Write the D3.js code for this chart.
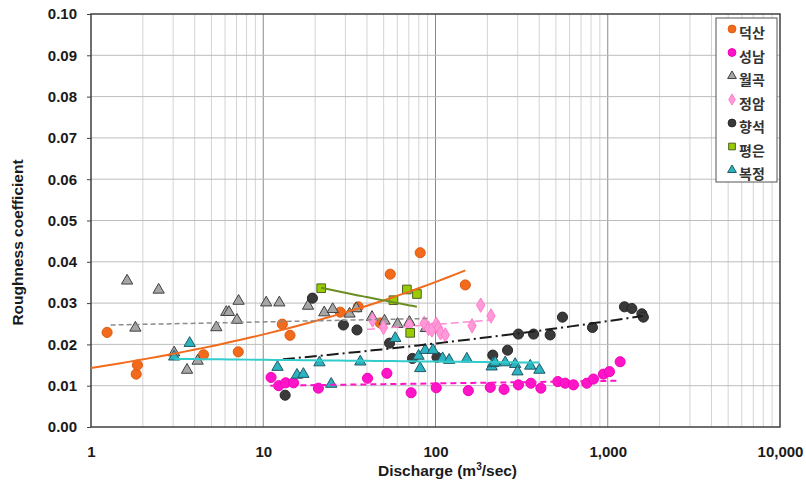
<!DOCTYPE html>
<html>
<head>
<meta charset="utf-8">
<script src="https://cdn.jsdelivr.net/npm/d3@7"></script>
<style>
	body { margin: 0; background: #fff; }
	text { font-family: "Liberation Sans", Arial, sans-serif; }
</style>
</head>
<body>
<div id="chart"></div>
<script>
// discharge (m3/sec) and roughness coefficient
var deoksanQ = [1.24, 1.83, 1.86, 4.5, 7.16, 12.9, 14.3, 28, 35.6, 47.8, 54.6, 81.5, 149];
var deoksanN = [0.0229, 0.0128, 0.0150, 0.0175, 0.0182, 0.0249, 0.0222, 0.0278, 0.0291, 0.0252, 0.0370, 0.0422, 0.0344];

var seongnamQ = [11.1, 12.3, 13.5, 15.0, 20.9, 40.3, 52.2, 72.2, 101, 155, 208, 250, 303, 358, 409, 513, 566, 632, 756, 826, 944, 1023, 1180];
var seongnamN = [0.0120, 0.0100, 0.0107, 0.0107, 0.0094, 0.0118, 0.0130, 0.0083, 0.0095, 0.0088, 0.0096, 0.0091, 0.0102, 0.0106, 0.0094, 0.0110, 0.0106, 0.0102, 0.0106, 0.0116, 0.0128, 0.0134, 0.0158];

var wolgokQ = [1.62, 1.81, 2.47, 3.04, 3.61, 4.16, 5.34, 6.10, 6.32, 7.04, 7.19, 10.4, 12.4, 18.2, 22.6, 25.3, 31.7, 34.7, 42.8, 50.6, 60.2, 70.6, 87.9];
var wolgokN = [0.0354, 0.0240, 0.0332, 0.0180, 0.0138, 0.0160, 0.0241, 0.0278, 0.0278, 0.0259, 0.0305, 0.0301, 0.0301, 0.0293, 0.0277, 0.0285, 0.0274, 0.0287, 0.0266, 0.0257, 0.0249, 0.0254, 0.0239];

var jeongamQ = [43.1, 49.9, 70.4, 86, 91.1, 95.3, 101, 104, 107, 114, 163, 183, 210];
var jeongamN = [0.0259, 0.0241, 0.0247, 0.0251, 0.0239, 0.0235, 0.0249, 0.0240, 0.0228, 0.0223, 0.0245, 0.0295, 0.0269];

var hyangseokQ = [13.4, 19.3, 29.2, 35.0, 54.1, 73.5, 102, 215, 262, 303, 371, 463, 546, 815, 1250, 1380, 1578, 1610];
var hyangseokN = [0.0077, 0.0312, 0.0247, 0.0235, 0.0203, 0.0166, 0.0169, 0.0174, 0.0186, 0.0225, 0.0225, 0.0223, 0.0266, 0.0241, 0.0291, 0.0287, 0.0274, 0.0266];

var pyeongeunQ = [21.7, 57.0, 68.2, 71.3, 78.0];
var pyeongeunN = [0.0336, 0.0307, 0.0333, 0.0228, 0.0322];

var bokjeongQ = [3.04, 3.74, 12.1, 15.7, 17.1, 21.2, 24.8, 36.6, 58.4, 79.7, 81.5, 87.1, 96.6, 110, 120, 152, 212, 216, 222, 254, 290, 299, 355, 401];
var bokjeongN = [0.0170, 0.0203, 0.0145, 0.0126, 0.0128, 0.0156, 0.0104, 0.0158, 0.0215, 0.0172, 0.0142, 0.0186, 0.0186, 0.0166, 0.0162, 0.0165, 0.0146, 0.0154, 0.0156, 0.0156, 0.0152, 0.0134, 0.0148, 0.0138];

// power trend lines n = a * Q^b, drawn between qFrom and qTo
var trendA = [0.0143, 0.00944, 0.0246, 0.0193, 0.0126, 0.0480, 0.01671];
var trendB = [0.195, 0.0242, 0.0147, 0.055, 0.1028, -0.1147, -0.0115];
var trendFrom = [1, 11, 1.3, 40, 13, 21.7, 3.04];
var trendTo = [149, 1180, 93, 210, 1600, 78, 401];

var names = ['덕산', '성남', '월곡', '정암', '향석', '평은', '복정'];

var xTicks = [1, 10, 100, 1000, 10000];
var yTicks = [0, 0.01, 0.02, 0.03, 0.04, 0.05, 0.06, 0.07, 0.08, 0.09, 0.10];

var series = [
	{q: deoksanQ, n: deoksanN, shape: d3.symbolCircle, fill: '#F26A1B', stroke: '#E05A10', size: 80,
		line: '#F26A1B', dash: null, lw: 2},
	{q: seongnamQ, n: seongnamN, shape: d3.symbolCircle, fill: '#FF14C8', stroke: '#F000BC', size: 80,
		line: '#FF14C8', dash: '6,4', lw: 2},
	{q: wolgokQ, n: wolgokN, shape: d3.symbolTriangle, fill: '#A6A6A6', stroke: '#404040', size: 55,
		line: '#8C8C8C', dash: '5,3', lw: 1.5},
	{q: jeongamQ, n: jeongamN, shape: d3.symbolDiamond, fill: '#FF9AD8', stroke: '#FF7ACB', size: 60,
		line: '#FF8CD4', dash: '8,4', lw: 1.5},
	{q: hyangseokQ, n: hyangseokN, shape: d3.symbolCircle, fill: '#3A3A3A', stroke: '#262626', size: 80,
		line: '#1A1A1A', dash: '12,4,2,4', lw: 2},
	{q: pyeongeunQ, n: pyeongeunN, shape: d3.symbolSquare, fill: '#99CC00', stroke: '#4F6228', size: 75,
		line: '#6B8E23', dash: null, lw: 2},
	{q: bokjeongQ, n: bokjeongN, shape: d3.symbolTriangle, fill: '#2BB3C0', stroke: '#215968', size: 55,
		line: '#33CCCC', dash: null, lw: 2}
];

var width = 806, height = 480,
	pad = {top: 14, right: 26, bottom: 53, left: 91};

var svg = d3.select('#chart').append('svg')
	.attr('width', width).attr('height', height);

var x = d3.scaleLog().domain([1, 10000]).range([pad.left, width - pad.right]);
var y = d3.scaleLinear().domain([0, 0.10]).range([height - pad.bottom, pad.top]);

var grid = svg.append('g').attr('class', 'grid');

// minor vertical grid
var minor = [];
for (var dec = 1; dec < 10000; dec *= 10) {
	for (var k = 2; k < 10; k++) minor.push(dec * k);
}
grid.selectAll('line.minor').data(minor).enter().append('line')
	.attr('class', 'minor')
	.attr('x1', function (d) {return x(d);}).attr('x2', function (d) {return x(d);})
	.attr('y1', y(0)).attr('y2', y(0.10))
	.attr('stroke', '#D4D4D4').attr('stroke-width', 1);

grid.selectAll('line.major').data(xTicks.slice(1, -1)).enter().append('line')
	.attr('class', 'major')
	.attr('x1', function (d) {return x(d);}).attr('x2', function (d) {return x(d);})
	.attr('y1', y(0)).attr('y2', y(0.10))
	.attr('stroke', '#8A8A8A').attr('stroke-width', 1);

grid.selectAll('line.h').data(yTicks.slice(1, -1)).enter().append('line')
	.attr('class', 'h')
	.attr('x1', x(1)).attr('x2', x(10000))
	.attr('y1', function (d) {return y(d);}).attr('y2', function (d) {return y(d);})
	.attr('stroke', '#BDBDBD').attr('stroke-width', 1);

// frame
svg.append('rect')
	.attr('x', x(1)).attr('y', y(0.10))
	.attr('width', x(10000) - x(1)).attr('height', y(0) - y(0.10))
	.attr('fill', 'none').attr('stroke', '#404040').attr('stroke-width', 1.5);

// axes
var yAxis = d3.axisLeft(y).tickValues(yTicks).tickSize(4).tickFormat(d3.format('.2f'));
var gy = svg.append('g').attr('transform', 'translate(' + x(1) + ',0)').call(yAxis);
gy.select('.domain').remove();
gy.selectAll('.tick line').attr('stroke', '#404040');
gy.selectAll('.tick text')
	.attr('x', -14)
	.style('font-size', '15px').style('font-weight', 'bold').attr('fill', '#1a1a1a');

var xAxis = d3.axisBottom(x).tickValues(xTicks).tickSize(0).tickFormat(d3.format(','));
var gx = svg.append('g').attr('transform', 'translate(0,' + y(0) + ')').call(xAxis);
gx.select('.domain').remove();
gx.selectAll('.tick text')
	.attr('y', 19)
	.style('font-size', '15px').style('font-weight', 'bold').attr('fill', '#1a1a1a');

// axis titles
var xt = svg.append('text')
	.attr('x', x(100) + 12).attr('y', 476)
	.attr('text-anchor', 'middle')
	.style('font-size', '15.5px').style('font-weight', 'bold').attr('fill', '#1a1a1a');
xt.append('tspan').text('Discharge (m');
xt.append('tspan').attr('dy', -6).style('font-size', '10px').text('3');
xt.append('tspan').attr('dy', 6).text('/sec)');

svg.append('text')
	.attr('transform', 'translate(23,' + (y(0.05) + 22) + ') rotate(-90)')
	.attr('text-anchor', 'middle')
	.style('font-size', '15.5px').style('font-weight', 'bold').attr('fill', '#1a1a1a')
	.text('Roughness coefficient');

// trend lines
var line = d3.line()
	.x(function (d) {return x(d[0]);})
	.y(function (d) {return y(d[1]);});

series.forEach(function (s, i) {
	var pts = [];
	var l0 = Math.log10(trendFrom[i]), l1 = Math.log10(trendTo[i]);
	for (var j = 0; j <= 40; j++) {
		var q = Math.pow(10, l0 + (l1 - l0) * j / 40);
		pts.push([q, trendA[i] * Math.pow(q, trendB[i])]);
	}
	s.trend = pts;
});

// points
var sym = d3.symbol();
var marks = svg.append('g').attr('class', 'marks');
series.forEach(function (s, i) {
	var g = marks.append('g').attr('class', 'series s' + i);
	var pts = s.q.map(function (q, j) {return [q, s.n[j]];});
	g.selectAll('path.pt').data(pts).enter().append('path')
		.attr('class', 'pt')
		.attr('d', sym.type(s.shape).size(s.size)())
		.attr('transform', function (d) {return 'translate(' + x(d[0]) + ',' + y(d[1]) + ')';})
		.attr('fill', s.fill).attr('stroke', s.stroke).attr('stroke-width', 1);
});

var lines = svg.append('g').attr('class', 'trends');
series.forEach(function (s) {
	lines.append('path')
		.attr('d', line(s.trend))
		.attr('fill', 'none')
		.attr('stroke', s.line).attr('stroke-width', s.lw)
		.attr('stroke-dasharray', s.dash);
});

// legend
var legend = svg.append('g').attr('transform', 'translate(716,18)');
legend.append('rect')
	.attr('width', 61).attr('height', 164)
	.attr('fill', '#fff').attr('stroke', '#555').attr('stroke-width', 1);
var items = legend.selectAll('g.item').data(series).enter().append('g')
	.attr('class', 'item')
	.attr('transform', function (d, i) {return 'translate(0,' + (14 + i * 23.5) + ')';});
items.append('path')
	.attr('d', function (d) {return sym.type(d.shape).size(d.size * 0.6)();})
	.attr('transform', 'translate(16,-3)')
	.attr('fill', function (d) {return d.fill;})
	.attr('stroke', function (d) {return d.stroke;}).attr('stroke-width', 1);
items.append('text')
	.attr('x', 23).attr('y', 6)
	.style('font-family', '"Noto Sans CJK KR", sans-serif')
	.style('font-size', '14px').style('font-weight', 'bold').attr('fill', '#333')
	.text(function (d, i) {return names[i];});
</script>
</body>
</html>
